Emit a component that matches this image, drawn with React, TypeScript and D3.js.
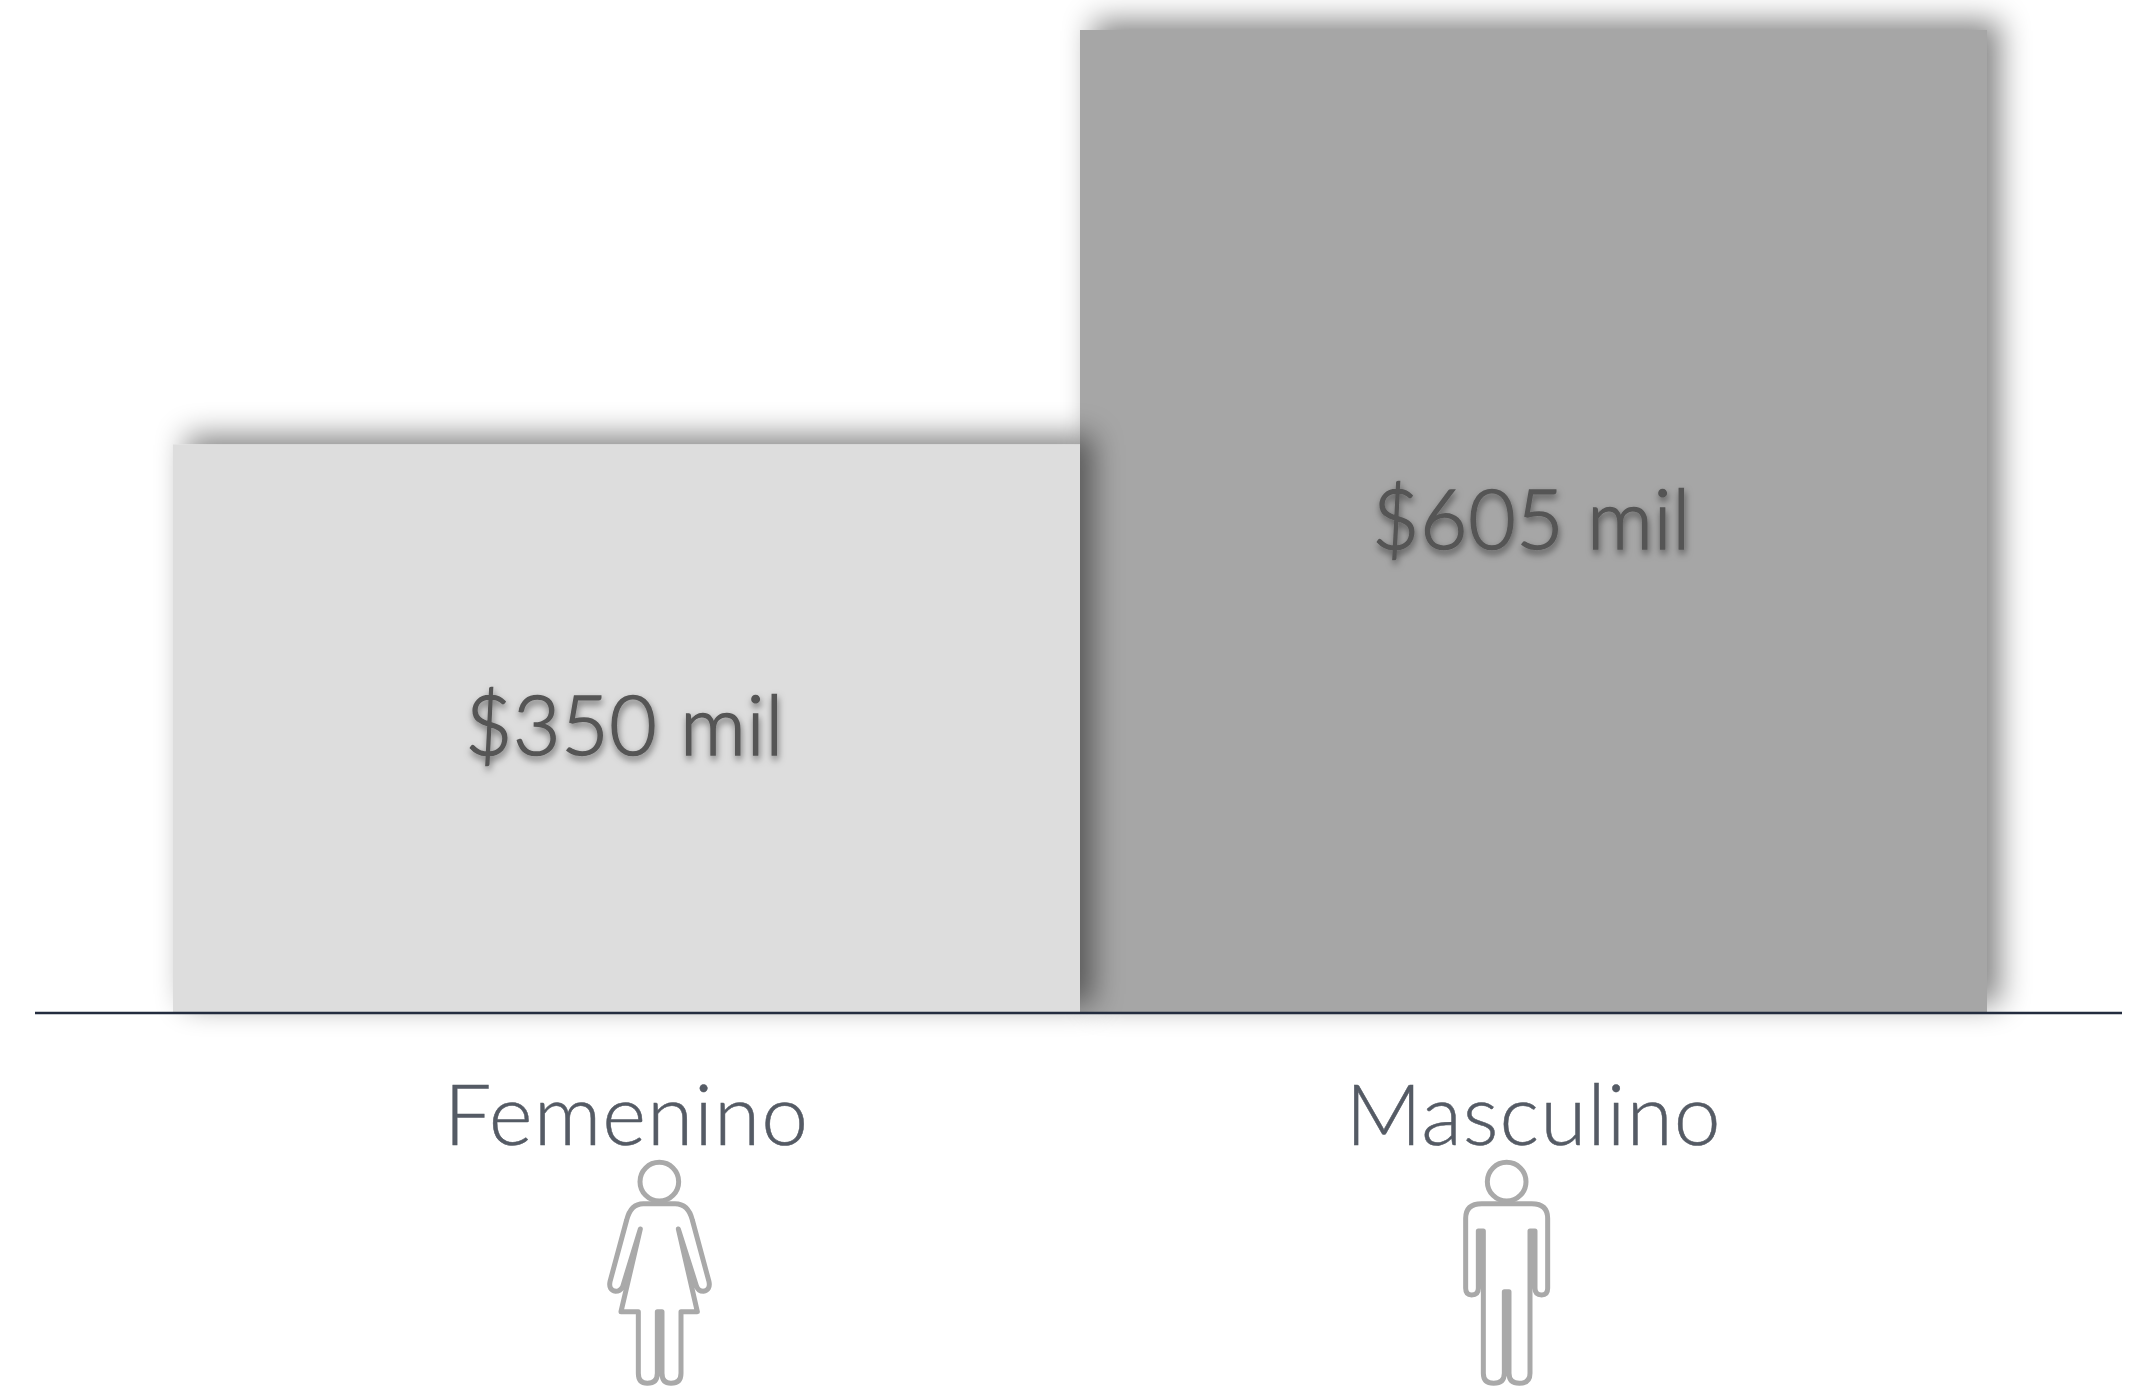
import React from "react";
import * as d3 from "d3";

const categories = ["Femenino", "Masculino"];
const values = [350, 605];
const valueLabels = ["$350 mil", "$605 mil"];
const barColors = ["#dddddd", "#a6a6a6"];

const W = 2137, H = 1387;
const baseY = 1013;
const FONT = "Lato, 'Noto Sans', sans-serif";

const femalePath = "M250 221 H345 Q385 221 397 270 L447 455 Q452 480 430 484 Q415 484 410 470 L355 297 L412 545 H363 V730 Q363 760 333 760 Q306 760 306 730 V545 H292 V730 Q292 760 262 760 Q235 760 235 730 V545 H183 L241 297 L188 470 Q180 484 167 484 Q145 480 150 455 L200 270 Q212 221 250 221 Z";
const malePath = "M245 221 H395 Q443 221 443 265 V475 Q443 495 425 495 Q405 495 405 475 V303 H390 V730 Q390 760 358 760 Q327 760 327 730 V485 H313 V730 Q313 760 281 760 Q250 760 250 730 V303 H235 V475 Q235 495 215 495 Q197 495 197 475 V265 Q197 221 245 221 Z";
const icons = [
  { path: femalePath, ox: 560, hx: 298 },
  { path: malePath, ox: 1400, hx: 320 },
];

export default function App() {
  const x = d3.scaleBand<string>().domain(categories).range([173, 1987]).padding(0);
  const y = d3.scaleLinear().domain([0, 605]).range([baseY, 30]);
  const order = [1, 0];
  return (
    <svg width={W} height={H} style={{ position: "absolute", left: 0, top: 0, background: "#fff" }}>
      <defs>
        <filter id="barShadow" x="-20%" y="-20%" width="140%" height="140%">
          <feDropShadow dx="13" dy="-9" stdDeviation="15" floodColor="#000" floodOpacity="0.48" />
        </filter>
        <filter id="textShadow" x="-10%" y="-20%" width="120%" height="150%">
          <feDropShadow dx="1" dy="4" stdDeviation="3.5" floodColor="#000" floodOpacity="0.5" />
        </filter>
      </defs>
      {order.map((i) => (
        <rect
          key={categories[i]}
          x={x(categories[i])}
          y={y(values[i])}
          width={x.bandwidth()}
          height={baseY - y(values[i])}
          fill={barColors[i]}
          filter="url(#barShadow)"
        />
      ))}
      <line x1={35} x2={2122} y1={1013} y2={1013} stroke="#232c3f" strokeWidth={2.4} />
      {categories.map((c, i) => {
        const cx = x(c)! + x.bandwidth() / 2;
        return (
          <g key={c} fontFamily={FONT} textAnchor="middle">
            <text
              x={cx - 2}
              y={y(values[i]) + (i === 0 ? 311 : 519)}
              fontSize={82}
              fontWeight={300}
              letterSpacing={0.5}
              stroke="#555555"
              strokeWidth={1.6}
              fill="#555555"
              filter="url(#textShadow)"
            >
              {valueLabels[i]}
            </text>
            <text x={cx} y={1145} fontSize={84} fontWeight={300} letterSpacing={1} stroke="#555b65" strokeWidth={0.5} fill="#555b65">
              {c}
            </text>
            <g transform={`translate(${icons[i].ox},1130) scale(${1 / 3})`} fill="none" stroke="#a9a9a9" strokeWidth={15} strokeLinejoin="round">
              <circle cx={icons[i].hx} cy={155} r={58} />
              <path d={icons[i].path} />
            </g>
          </g>
        );
      })}
    </svg>
  );
}
